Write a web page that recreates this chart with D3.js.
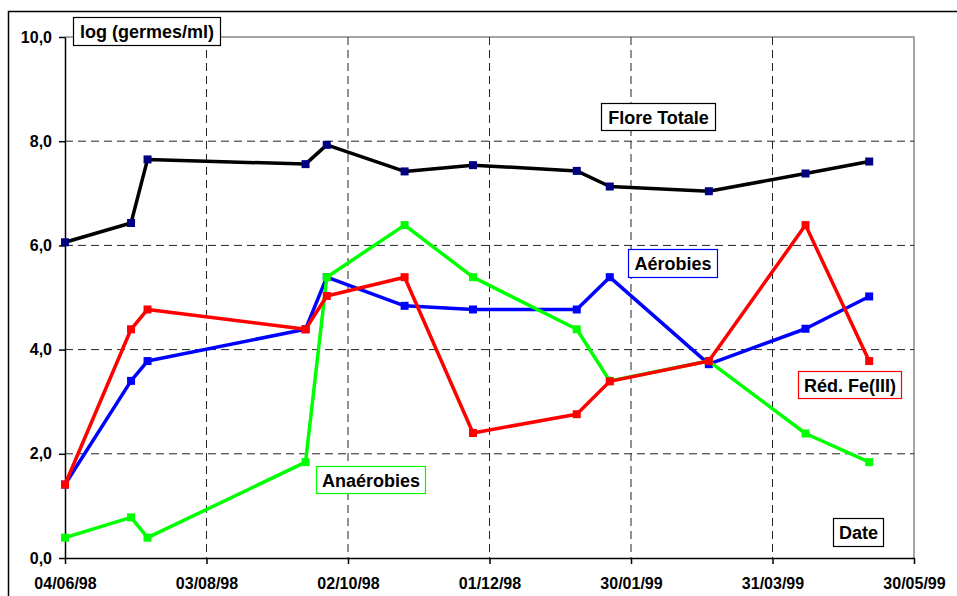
<!DOCTYPE html>
<html>
<head>
<meta charset="utf-8">
<script src="https://cdn.jsdelivr.net/npm/d3@7"></script>
<style>
  body { margin: 0; background: #fff; }
  text { font-family: Arial, "Liberation Sans", sans-serif; font-weight: bold; }
</style>
</head>
<body>
<div id="chart"></div>
<script>
// sample dates (dd/mm/yy)
const dates = ["04/06/98", "02/07/98", "09/07/98", "14/09/98", "23/09/98", "26/10/98",
               "24/11/98", "07/01/99", "21/01/99", "04/03/99", "14/04/99", "11/05/99"];

const floreTotale = [6.06, 6.43, 7.65, 7.56, 7.93, 7.42, 7.54, 7.43, 7.13, 7.04, 7.38, 7.61];
const aerobies    = [1.41, 3.40, 3.78, 4.39, 5.39, 4.84, 4.77, 4.77, 5.39, 3.72, 4.40, 5.02];
const anaerobies  = [0.39, 0.78, 0.39, 1.84, 5.39, 6.39, 5.39, 4.39, 3.40, 3.78, 2.39, 1.84];
const redFe       = [1.41, 4.39, 4.77, 4.39, 5.03, 5.39, 2.40, 2.76, 3.39, 3.78, 6.39, 3.78];

const xTickLabels = ["04/06/98", "03/08/98", "02/10/98", "01/12/98", "30/01/99", "31/03/99", "30/05/99"];
const yTickValues = [0, 2, 4, 6, 8, 10];

const parse = d3.utcParse("%d/%m/%y");
const W = 957, H = 596;
const margin = { left: 65, top: 37, right: W - 914, bottom: H - 558 };

const svg = d3.select("#chart").append("svg")
    .attr("width", W)
    .attr("height", H);

// outer chart frame
svg.append("rect")
    .attr("x", 8.5).attr("y", 11.5)
    .attr("width", 970).attr("height", 620)
    .attr("fill", "#fff")
    .attr("stroke", "#000")
    .attr("stroke-width", 1.5);

const x = d3.scaleUtc()
    .domain([parse(xTickLabels[0]), parse(xTickLabels[xTickLabels.length - 1])])
    .range([margin.left, W - margin.right]);

const y = d3.scaleLinear()
    .domain([0, 10])
    .range([H - margin.bottom, margin.top]);

// plot area border (top / right)
svg.append("path")
    .attr("d", `M${x.range()[0]},${y(10)}H${x.range()[1]}V${y(0)}`)
    .attr("fill", "none")
    .attr("stroke", "#888")
    .attr("stroke-width", 1.5);

// gridlines
const grid = svg.append("g").attr("stroke", "#222").attr("stroke-width", 1).attr("stroke-dasharray", "8,5");
grid.selectAll(".hg")
    .data(yTickValues.filter(v => v > 0 && v < 10))
    .enter().append("line")
    .attr("x1", x.range()[0]).attr("x2", x.range()[1])
    .attr("y1", d => y(d)).attr("y2", d => y(d));
grid.selectAll(".vg")
    .data(xTickLabels.slice(1, -1))
    .enter().append("line")
    .attr("x1", d => x(parse(d))).attr("x2", d => x(parse(d)))
    .attr("y1", y(10)).attr("y2", y(0));

// axes
const fmtY = v => d3.format(".1f")(v).replace(".", ",");
const yAxis = svg.append("g")
    .attr("transform", `translate(${margin.left},0)`)
    .call(d3.axisLeft(y).tickValues(yTickValues).tickFormat(fmtY).tickSize(6).tickSizeOuter(0).tickPadding(7));

const xAxis = svg.append("g")
    .attr("transform", `translate(0,${y(0)})`)
    .call(d3.axisBottom(x).tickValues(xTickLabels.map(parse)).tickFormat(d3.utcFormat("%d/%m/%y"))
        .tickSize(6).tickSizeOuter(0).tickPadding(14));

[yAxis, xAxis].forEach(a => {
    a.select(".domain").attr("stroke", "#000").attr("stroke-width", 1.5);
    a.selectAll(".tick line").attr("stroke", "#000").attr("stroke-width", 1.5);
    a.selectAll("text").attr("font-size", 16).attr("fill", "#000")
        .style("font-family", "Arial, 'Liberation Sans', sans-serif").style("font-weight", "bold");
});

// series, drawn in the original stacking order
const series = [
    { values: floreTotale, line: "#000000", marker: "#000080" },
    { values: aerobies,    line: "#0000FF", marker: "#0000FF" },
    { values: anaerobies,  line: "#00FF00", marker: "#00FF00" },
    { values: redFe,       line: "#FF0000", marker: "#FF0000" }
];

const line = d3.line()
    .x(d => x(d.date))
    .y(d => y(d.v));

series.forEach(s => {
    const pts = dates.map((d, i) => ({ date: parse(d), v: s.values[i] }));
    const g = svg.append("g");
    g.append("path")
        .datum(pts)
        .attr("d", line)
        .attr("fill", "none")
        .attr("stroke", s.line)
        .attr("stroke-width", 3.5)
        .attr("stroke-linejoin", "round");
    g.selectAll("rect")
        .data(pts)
        .enter().append("rect")
        .attr("x", d => x(d.date) - 4)
        .attr("y", d => y(d.v) - 4)
        .attr("width", 8)
        .attr("height", 8)
        .attr("fill", s.marker);
});

// text boxes
const labels = [
    { text: "log (germes/ml)", x: 73, y: 17, w: 147, h: 28, stroke: "#000" },
    { text: "Flore Totale",    x: 601, y: 103, w: 114, h: 27, stroke: "#000" },
    { text: "Aérobies",        x: 628, y: 249, w: 89, h: 28, stroke: "#0000FF" },
    { text: "Réd. Fe(III)",    x: 798, y: 371, w: 103, h: 27, stroke: "#FF0000" },
    { text: "Anaérobies",      x: 316, y: 466, w: 109, h: 27, stroke: "#00FF00" },
    { text: "Date",            x: 833, y: 518, w: 50, h: 28, stroke: "#000" }
];

const lg = svg.selectAll(".lbl")
    .data(labels)
    .enter().append("g")
    .attr("class", "lbl");
lg.append("rect")
    .attr("x", d => d.x + 0.5).attr("y", d => d.y + 0.5)
    .attr("width", d => d.w).attr("height", d => d.h)
    .attr("fill", "#fff")
    .attr("stroke", d => d.stroke)
    .attr("stroke-width", 1.2);
lg.append("text")
    .attr("x", d => d.x + d.w / 2 + 0.5)
    .attr("y", d => d.y + d.h / 2 + 7)
    .attr("text-anchor", "middle")
    .attr("font-size", 18)
    .attr("fill", "#000")
    .text(d => d.text);
</script>
</body>
</html>
